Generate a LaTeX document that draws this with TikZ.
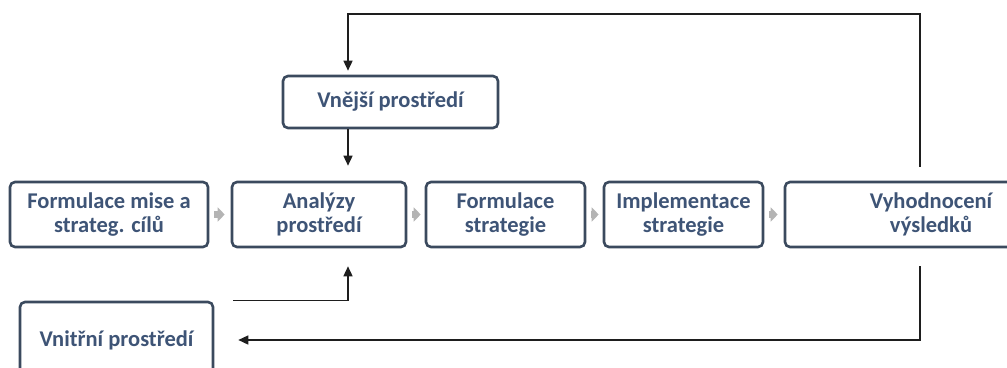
\documentclass[tikz,border=0pt]{standalone}
\usepackage{fontspec}
\setmainfont{Carlito}
\usetikzlibrary{arrows.meta}
\definecolor{boxline}{HTML}{3B4A5E}
\definecolor{boxtext}{HTML}{3E5476}
\definecolor{stepgray}{HTML}{B4B4B4}
\definecolor{flowline}{HTML}{1E1E1E}
\begin{document}
\begin{tikzpicture}[x=1pt,y=-1pt,
  stagebox/.style={draw=boxline, line width=2.6pt, rounded corners=5pt, fill=white,
    text=boxtext, font=\bfseries\fontsize{22.5}{24.5}\selectfont, align=center,
    inner sep=0pt},
  nextstep/.style={draw=stepgray, line width=7pt,
    -{Triangle[length=7pt,width=14pt]}},
  feedback/.style={draw=flowline, line width=1.5pt,
    -{Triangle[length=10pt,width=9pt]}}]
  \useasboundingbox (0,0) rectangle (1007,367);
  \clip (0,0) rectangle (1007,367);

  % main sequence of stages
  \node[stagebox, minimum width=198pt, minimum height=65pt] (mise) at (109,214.5)
    {Formulace mise a\\strateg. cílů};
  \node[stagebox, minimum width=174pt, minimum height=65pt] (analyza) at (319,214.5)
    {Analýzy\\prostředí};
  \node[stagebox, minimum width=159pt, minimum height=65pt] (formulace) at (505.5,214.5)
    {Formulace\\strategie};
  \node[stagebox, minimum width=159pt, minimum height=65pt] (impl) at (683.5,214.5)
    {Implementace\\strategie};
  \node[stagebox, minimum width=292pt, minimum height=65pt] (vyhod) at (931,214.5)
    {Vyhodnocení\\výsledků};

  % environments
  \node[stagebox, minimum width=215pt, minimum height=52pt] (vnejsi) at (390.5,102)
    {Vnější prostředí};
  \node[stagebox, minimum width=193pt, minimum height=76pt] (vnitrni) at (116.5,340)
    {Vnitřní prostředí};

  % routing coordinates
  \coordinate (ax) at (348,0);
  \coordinate (loopx) at (920,0);
  \coordinate (toprow) at (0,14);

  % small grey arrows between stages
  \draw[nextstep, shorten <=5pt, shorten >=6pt] (mise.east) -- (analyza.west);
  \draw[nextstep, shorten <=5pt, shorten >=4pt] (analyza.east) -- (formulace.west);
  \draw[nextstep, shorten <=5pt, shorten >=4pt] (formulace.east) -- (impl.west);
  \draw[nextstep, shorten <=5pt, shorten >=6pt] (impl.east) -- (vyhod.west);

  % feedback over the top to the external environment
  \draw[feedback, shorten <=14pt, shorten >=4pt]
    (vyhod.north -| loopx) |- (ax |- toprow) -- (ax |- vnejsi.north);
  % external environment into the analysis
  \draw[feedback, shorten >=15pt] (ax |- vnejsi.south) -- (ax |- analyza.north);
  % internal environment into the analysis
  \draw[feedback, shorten >=18pt]
    ([xshift=19pt]vnitrni.north east) -| (ax |- analyza.south);
  % feedback underneath to the internal environment
  \draw[feedback, shorten <=18pt, shorten >=24pt]
    (vyhod.south -| loopx) |- (vnitrni.east);
\end{tikzpicture}
\end{document}
